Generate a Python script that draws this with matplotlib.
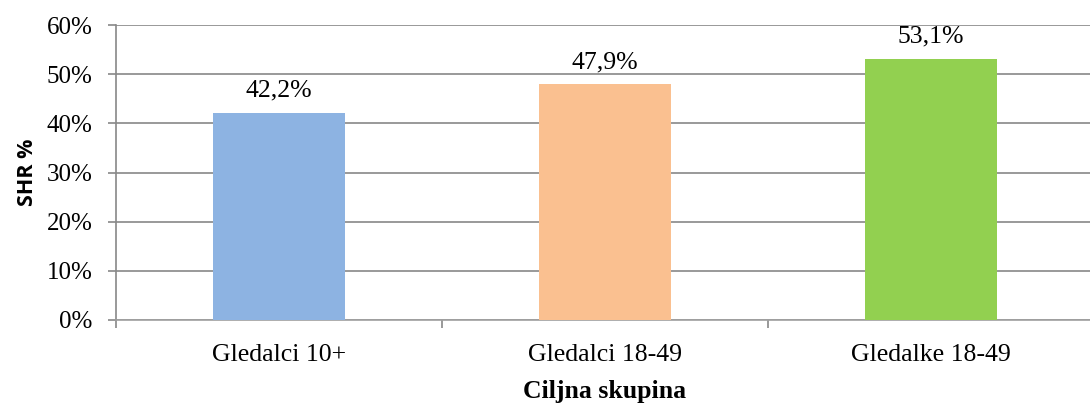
import matplotlib
matplotlib.use("Agg")
import matplotlib.pyplot as plt
from matplotlib.ticker import FixedLocator, NullFormatter

categories = ["Gledalci 10+", "Gledalci 18-49", "Gledalke 18-49"]
values = [42.2, 47.9, 53.1]
colors = ["#8DB3E2", "#FAC090", "#92D050"]
yticks = [0, 10, 20, 30, 40, 50, 60]

fig = plt.figure(figsize=(10.9, 4.03), dpi=100)
ax = fig.add_axes([116/1090, 1-320/403, 978/1090, 295/403])

x = list(range(len(categories)))
ax.bar(x, values, width=0.405, color=colors, zorder=3)
ax.set_xlim(-0.5, 2.5)
ax.set_ylim(0, 60)
ax.set_yticks(yticks)
ax.set_yticklabels([f"{t}%" for t in yticks], fontfamily="Liberation Serif", fontsize=18)
ax.set_xticks(x)
ax.set_xticklabels(categories, fontfamily="Liberation Serif", fontsize=18.5)
ax.tick_params(axis="x", which="major", length=0, pad=17)
ax.xaxis.set_minor_locator(FixedLocator([-0.5, 0.5, 1.5, 2.5]))
ax.xaxis.set_minor_formatter(NullFormatter())
ax.tick_params(axis="x", which="minor", length=6, color="#888888", width=1.2)
ax.tick_params(axis="y", length=6, color="#888888", width=1.2, pad=11)

for sp in ["top", "right"]:
    ax.spines[sp].set_visible(False)
ax.spines["left"].set_color("#888888")
ax.spines["bottom"].set_color("#a0a0a0")
ax.spines["left"].set_linewidth(1.2)
ax.spines["bottom"].set_linewidth(1.2)
ax.yaxis.grid(True, color="#888888", linewidth=1.2, zorder=0)

for xi, v in zip(x, values):
    ax.annotate(f"{v:.1f}%".replace(".", ","), (xi, v), xytext=(0, 8), textcoords="offset points",
                ha="center", va="bottom", fontfamily="Liberation Serif", fontsize=18.5)

ax.set_ylabel("SHR %", fontfamily="Open Sans", fontweight="bold", fontsize=15.5, labelpad=6)
ax.set_xlabel("Ciljna skupina", fontfamily="Liberation Serif", fontweight="bold", fontsize=18.5, labelpad=10)

fig.savefig("out.png", dpi=100)
